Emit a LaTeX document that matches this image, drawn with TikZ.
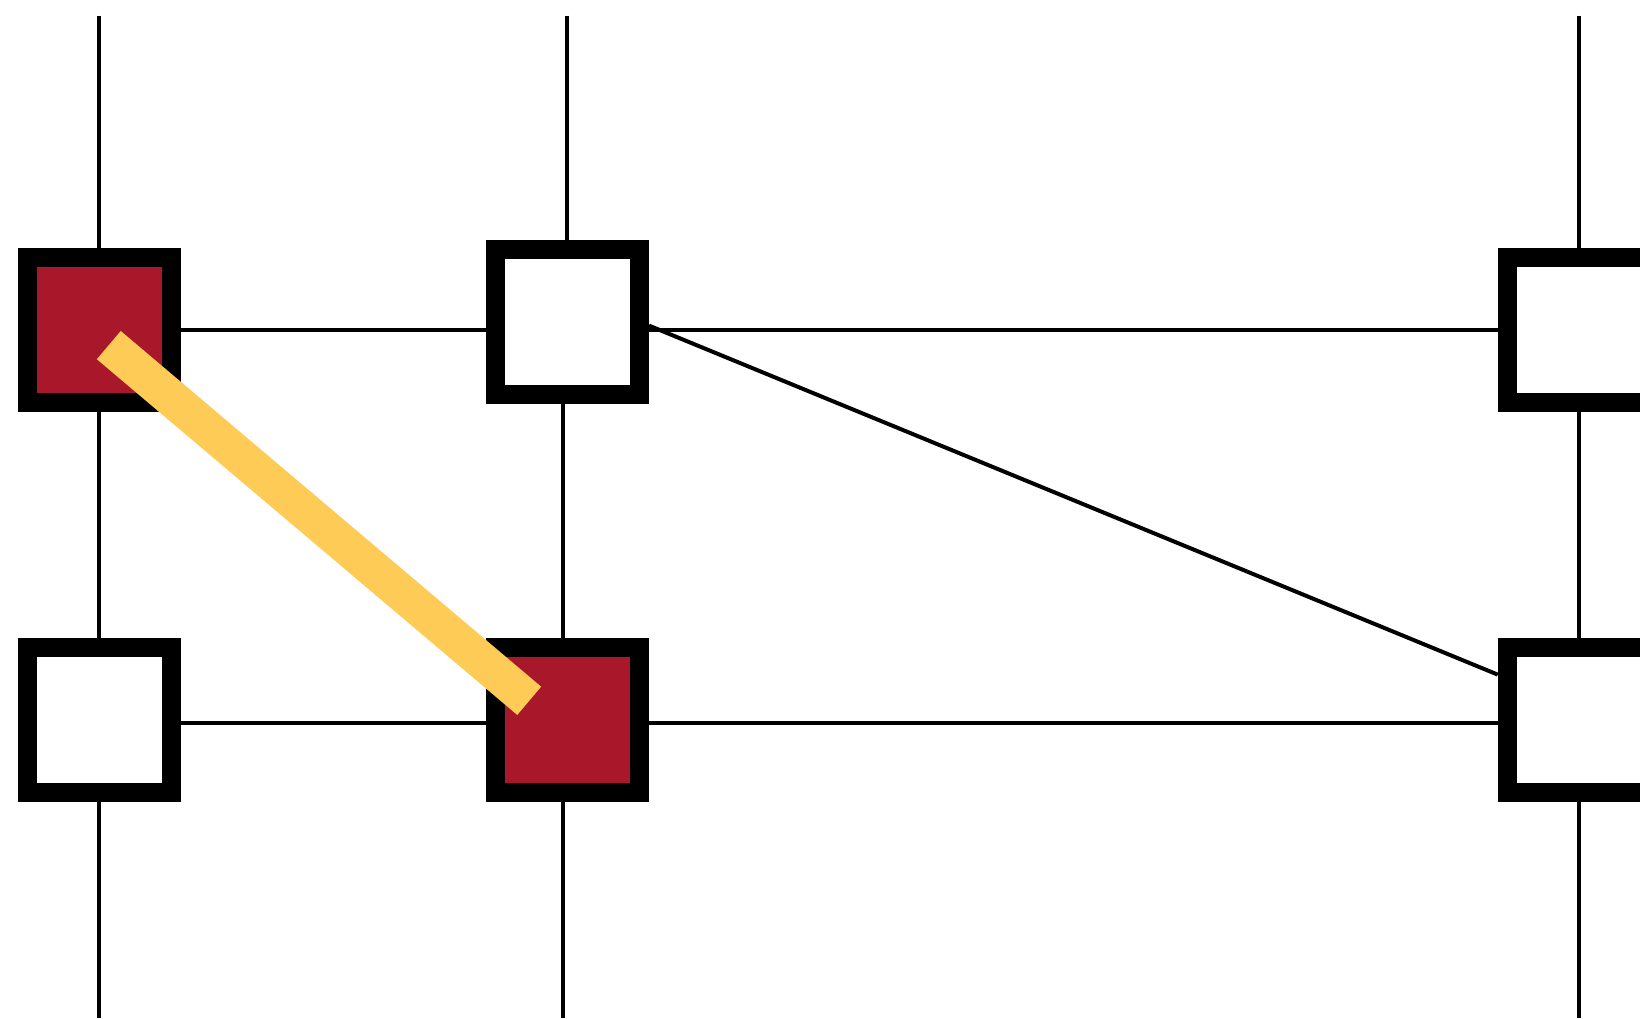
\documentclass[tikz,border=0pt]{standalone}
\usetikzlibrary{calc,backgrounds}
\definecolor{boxred}{HTML}{A8182A}
\definecolor{hiyellow}{HTML}{FECB57}
\tikzset{
  cell/.style={draw=black, line width=18.8pt, rectangle, minimum width=144.4pt, minimum height=145pt, inner sep=0pt, fill=white},
  redcell/.style={cell, fill=boxred},
  wire/.style={draw=black, line width=4pt},
  hilite/.style={draw=hiyellow, line width=37pt, line cap=butt}
}
\begin{document}
\begin{tikzpicture}[x=1pt,y=-1pt]
\useasboundingbox (0,0) rectangle (1640,1018);
\clip (0,0) rectangle (1640,1018);
% boxes
\node[redcell] (tl) at (99.4,330) {};
\node[cell] (tm) at (567.4,321.6) {};
\node[cell] (tr) at (1579.3,330) {};
\node[cell] (bl) at (99.4,720) {};
\node[redcell] (bm) at (567.4,720) {};
\node[cell] (br) at (1579.3,720) {};
% free ends
\coordinate (tlT) at (99.4,15.7);
\coordinate (tmT) at (566.9,15.7);
\coordinate (trT) at (1579.3,15.7);
\coordinate (blB) at (99.4,1018);
\coordinate (bmB) at (562.7,1018);
\coordinate (brB) at (1579.3,1018);
\begin{pgfonlayer}{background}
  % vertical wires
  \draw[wire] (tlT) -- (tl.north);
  \draw[wire] (tmT) -- (tmT |- tm.north);
  \draw[wire] (trT) -- (tr.north);
  \draw[wire] (tl.south) -- (bl.north);
  \draw[wire] ([xshift=-4.7pt]tm.south) -- ([xshift=-4.7pt]bm.north);
  \draw[wire] (tr.south) -- (br.north);
  \draw[wire] (bl.south) -- (blB);
  \draw[wire] (bmB |- bm.south) -- (bmB);
  \draw[wire] (br.south) -- (brB);
  % horizontal wires
  \draw[wire] (tl.east) -- (tl.east -| tm.west);
  \draw[wire] (tl.east -| tm.east) -- (tr.west);
  \draw[wire] ([yshift=-2.7pt]bl.east) -- ([yshift=-2.7pt]bm.west);
  \draw[wire] ([yshift=-2.7pt]bm.east) -- ([yshift=-2.7pt]br.west);
  % diagonal
  \draw[wire] ([yshift=-4pt]tm.east) -- ([yshift=45.4pt]br.west);
\end{pgfonlayer}
% highlight
\draw[hilite] ($(tl.center)+(9.4,15.1)$) -- ($(bm.center)+(-38.2,-19.2)$);
\end{tikzpicture}
\end{document}
